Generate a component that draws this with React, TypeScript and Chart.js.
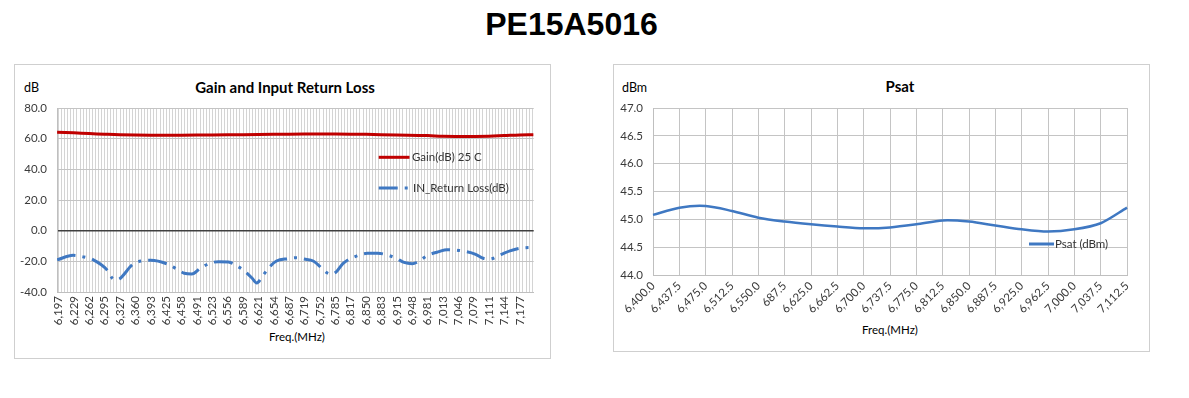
import React, { useEffect, useRef } from "react";
import { Chart, registerables } from "chart.js";

Chart.register(...registerables);

const MAIN_TITLE = "PE15A5016";

// ---- Left chart: Gain and Input Return Loss ----
const LEFT_TITLE = "Gain and Input Return Loss";
const LEFT_UNIT = "dB";
const X_TITLE = "Freq.(MHz)";
const LEFT_TICK_LABELS = [
  "6,197", "6,229", "6,262", "6,295", "6,327", "6,360", "6,393", "6,425", "6,458", "6,491",
  "6,523", "6,556", "6,589", "6,621", "6,654", "6,687", "6,719", "6,752", "6,785", "6,817",
  "6,850", "6,883", "6,915", "6,948", "6,981", "7,013", "7,046", "7,079", "7,111", "7,144", "7,177",
];
const LEFT_CAT_START = 6197;
const LEFT_CAT_STEP = 6.5333;
const LEFT_CAT_COUNT = 155;
const LEFT_LABEL_EVERY = 5;
const LEFT_Y_TICKS = [-40, -20, 0, 20, 40, 60, 80];

const GAIN_NAME = "Gain(dB) 25 C";
const GAIN_FREQ = [6194, 6229, 6262, 6295, 6327, 6393, 6458, 6523, 6589, 6654, 6719, 6785, 6850, 6915, 6981, 7013, 7046, 7111, 7144, 7177, 7206];
const GAIN_DB = [64.2, 63.8, 63.3, 62.9, 62.6, 62.3, 62.3, 62.4, 62.6, 62.8, 63.0, 63.1, 62.8, 62.4, 62.0, 61.5, 61.4, 61.6, 62.0, 62.4, 62.5];

const RL_NAME = "IN_Return Loss(dB)";
const RL_FREQ = [
  6194, 6228, 6251, 6270, 6301, 6312, 6318, 6327, 6354, 6372, 6393, 6428, 6448, 6464, 6480, 6499,
  6518, 6537, 6558, 6575, 6592, 6608, 6618, 6631, 6644, 6660, 6685, 6702, 6719, 6738, 6768, 6776,
  6787, 6801, 6832, 6853, 6875, 6913, 6931, 6948, 6984, 7005, 7022, 7054, 7083, 7099, 7113, 7138,
  7156, 7177, 7206,
];
const RL_DB = [
  -19.0, -16.1, -17.2, -18.9, -25.9, -31.3, -32.0, -31.3, -22.2, -19.8, -19.3, -21.7, -25.0, -27.8, -28.3, -24.3,
  -21.3, -20.2, -20.4, -22.8, -26.3, -30.9, -34.1, -29.3, -24.1, -19.8, -18.3, -17.6, -18.5, -19.8, -27.6, -28.4,
  -26.9, -21.5, -16.3, -14.8, -14.8, -17.8, -20.7, -21.5, -15.7, -13.7, -12.4, -13.2, -15.4, -18.0, -18.5, -15.4,
  -13.2, -11.5, -10.9,
];

// ---- Right chart: Psat ----
const RIGHT_TITLE = "Psat";
const RIGHT_UNIT = "dBm";
const PSAT_NAME = "Psat (dBm)";
const PSAT_LABELS = [
  "6,400.0", "6,437.5", "6,475.0", "6,512.5", "6,550.0", "687.5", "6,625.0", "6,662.5", "6,700.0", "6,737.5",
  "6,775.0", "6,812.5", "6,850.0", "6,887.5", "6,925.0", "6,962.5", "7,000.0", "7,037.5", "7,112.5",
];
const PSAT_DBM = [
  45.08, 45.21, 45.24, 45.15, 45.03, 44.96, 44.91, 44.87, 44.84, 44.855,
  44.91, 44.98, 44.96, 44.89, 44.82, 44.78, 44.82, 44.93, 45.21,
];

const FONT = "Lato";
const RED = "#c00000";
const BLUE = "#3f78c2";
const TICK_COLOR = "#3a3a3a";
const RL_DASH = [19, 7, 3, 7];

type LegendItem = { text: string; color: string; dash: number[]; x1: number; x2: number; y: number; tx: number };

function legendPlugin(items: LegendItem[]) {
  return {
    id: "customLegend",
    afterDraw(chart: any) {
      const ctx = chart.ctx as CanvasRenderingContext2D;
      items.forEach((it) => {
        ctx.save();
        ctx.strokeStyle = it.color;
        ctx.lineWidth = 3;
        ctx.setLineDash(it.dash);
        ctx.beginPath();
        ctx.moveTo(it.x1, it.y);
        ctx.lineTo(it.x2, it.y);
        ctx.stroke();
        ctx.setLineDash([]);
        ctx.fillStyle = "#333333";
        ctx.font = `11.5px ${FONT}`;
        ctx.textBaseline = "middle";
        ctx.textAlign = "left";
        ctx.fillText(it.text, it.tx, it.y);
        ctx.restore();
      });
    },
  };
}

function LeftChart() {
  const ref = useRef<HTMLCanvasElement | null>(null);
  useEffect(() => {
    if (!ref.current) return;
    const xmin = LEFT_CAT_START - LEFT_CAT_STEP / 2;
    const xmax = xmin + LEFT_CAT_COUNT * LEFT_CAT_STEP;
    const chart = new Chart(ref.current, {
      type: "line",
      data: {
        datasets: [
          {
            label: GAIN_NAME,
            data: GAIN_FREQ.map((f, i) => ({ x: f, y: GAIN_DB[i] })),
            borderColor: RED,
            borderWidth: 3,
            pointRadius: 0,
            tension: 0.4,
            fill: false,
          },
          {
            label: RL_NAME,
            data: RL_FREQ.map((f, i) => ({ x: f, y: RL_DB[i] })),
            borderColor: BLUE,
            borderWidth: 3,
            borderDash: RL_DASH,
            pointRadius: 0,
            cubicInterpolationMode: "monotone",
            fill: false,
          },
        ],
      },
      options: {
        animation: false,
        responsive: false,
        layout: { padding: { top: 44, right: 12, left: 0, bottom: 0 } },
        plugins: { legend: { display: false }, tooltip: { enabled: false }, title: { display: false } },
        scales: {
          x: {
            type: "linear",
            min: xmin,
            max: xmax,
            afterBuildTicks: (scale: any) => {
              const t: any[] = [];
              for (let k = 0; k < LEFT_CAT_COUNT; k++) t.push({ value: LEFT_CAT_START + k * LEFT_CAT_STEP });
              scale.ticks = t;
            },
            afterFit: (scale: any) => {
              scale.height = 66;
            },
            ticks: {
              autoSkip: false,
              minRotation: 90,
              maxRotation: 90,
              padding: 4,
              color: TICK_COLOR,
              font: { family: FONT, size: 11.5 },
              callback: (_v: any, index: number) =>
                index % LEFT_LABEL_EVERY === 0 ? LEFT_TICK_LABELS[index / LEFT_LABEL_EVERY] ?? "" : "",
            },
            grid: { color: "#d4d4d4", lineWidth: 1, drawTicks: false },
            border: { color: "#bfbfbf" },
          },
          y: {
            min: -40,
            max: 80,
            afterBuildTicks: (scale: any) => {
              scale.ticks = LEFT_Y_TICKS.map((v) => ({ value: v }));
            },
            afterFit: (scale: any) => {
              scale.width = 43;
            },
            ticks: {
              padding: 10,
              color: TICK_COLOR,
              font: { family: FONT, size: 11.5 },
              callback: (v: any) => Number(v).toFixed(1),
            },
            grid: {
              color: (c: any) => (c.tick && c.tick.value === 0 ? "#404040" : "#c4c4c4"),
              lineWidth: (c: any) => (c.tick && c.tick.value === 0 ? 1.5 : 1),
              drawTicks: false,
            },
            border: { color: "#bfbfbf" },
          },
        },
      },
      plugins: [
        legendPlugin([
          { text: GAIN_NAME, color: RED, dash: [], x1: 364.7, x2: 395.5, y: 93.3, tx: 398 },
          { text: RL_NAME, color: BLUE, dash: RL_DASH, x1: 364.7, x2: 396, y: 124, tx: 399 },
        ]),
      ],
    } as any);
    return () => chart.destroy();
  }, []);
  return <canvas ref={ref} width={536} height={294} style={{ position: "absolute", left: 14, top: 64, width: 536, height: 294 }} />;
}

function RightChart() {
  const ref = useRef<HTMLCanvasElement | null>(null);
  useEffect(() => {
    if (!ref.current) return;
    const chart = new Chart(ref.current, {
      type: "line",
      data: {
        labels: PSAT_LABELS,
        datasets: [
          {
            label: PSAT_NAME,
            data: PSAT_DBM,
            borderColor: BLUE,
            borderWidth: 2.5,
            pointRadius: 0,
            tension: 0.3,
            fill: false,
          },
        ],
      },
      options: {
        animation: false,
        responsive: false,
        layout: { padding: { top: 44, right: 22, left: 0, bottom: 0 } },
        plugins: { legend: { display: false }, tooltip: { enabled: false }, title: { display: false } },
        scales: {
          x: {
            type: "category",
            offset: false,
            afterFit: (scale: any) => {
              scale.height = 76;
            },
            ticks: {
              autoSkip: false,
              minRotation: 45,
              maxRotation: 45,
              padding: 4,
              color: TICK_COLOR,
              font: { family: FONT, size: 11.5 },
            },
            grid: { color: "#c4c4c4", lineWidth: 1, drawTicks: false, offset: false },
            border: { color: "#bfbfbf" },
          },
          y: {
            min: 44,
            max: 47,
            ticks: {
              stepSize: 0.5,
              padding: 10,
              color: TICK_COLOR,
              font: { family: FONT, size: 11.5 },
              callback: (v: any) => Number(v).toFixed(1),
            },
            afterFit: (scale: any) => {
              scale.width = 40;
            },
            grid: { color: "#c4c4c4", lineWidth: 1, drawTicks: false },
            border: { color: "#bfbfbf" },
          },
        },
      },
      plugins: [
        legendPlugin([{ text: PSAT_NAME, color: BLUE, dash: [], x1: 416, x2: 441, y: 180, tx: 442 }]),
      ],
    } as any);
    return () => chart.destroy();
  }, []);
  return <canvas ref={ref} width={536} height={287} style={{ position: "absolute", left: 613, top: 64, width: 536, height: 287 }} />;
}

const abs = (s: React.CSSProperties): React.CSSProperties => ({ position: "absolute", ...s });

export default function App() {
  return (
    <div style={abs({ left: 0, top: 0, width: 1189, height: 398, background: "#ffffff", overflow: "hidden", fontFamily: FONT })}>
      <div
        style={abs({
          left: 0,
          width: 1143,
          top: 6,
          textAlign: "center",
          fontFamily: "'Liberation Sans', Arial, sans-serif",
          fontWeight: 700,
          fontSize: 32,
          lineHeight: "36px",
          color: "#000",
        })}
      >
        {MAIN_TITLE}
      </div>

      <div style={abs({ left: 14, top: 64, width: 535, height: 293, border: "1px solid #cfcfcf", boxSizing: "content-box" })} />
      <div style={abs({ left: 613, top: 64, width: 535, height: 286, border: "1px solid #cfcfcf", boxSizing: "content-box" })} />

      <div style={abs({ left: 185, width: 200, top: 78, textAlign: "center", fontWeight: 700, fontSize: 15, lineHeight: "18px", color: "#000" })}>
        {LEFT_TITLE}
      </div>
      <div style={abs({ left: 24, top: 80, fontSize: 12.5, lineHeight: "16px", color: "#000" })}>{LEFT_UNIT}</div>
      <div style={abs({ left: 197, width: 200, top: 330, textAlign: "center", fontSize: 11.5, lineHeight: "14px", color: "#000" })}>
        {X_TITLE}
      </div>

      <div style={abs({ left: 800, width: 200, top: 77, textAlign: "center", fontWeight: 700, fontSize: 15, lineHeight: "18px", color: "#000" })}>
        {RIGHT_TITLE}
      </div>
      <div style={abs({ left: 622, top: 80, fontSize: 12.5, lineHeight: "16px", color: "#000" })}>{RIGHT_UNIT}</div>
      <div style={abs({ left: 790, width: 200, top: 323, textAlign: "center", fontSize: 11.5, lineHeight: "14px", color: "#000" })}>
        {X_TITLE}
      </div>

      <LeftChart />
      <RightChart />
    </div>
  );
}
